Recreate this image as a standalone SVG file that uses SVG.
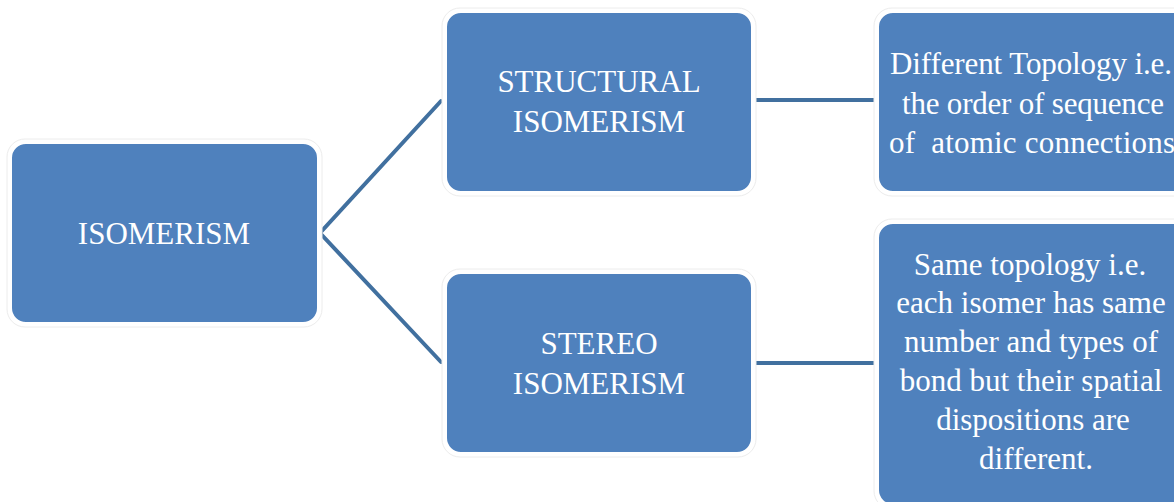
<svg xmlns="http://www.w3.org/2000/svg" width="1174" height="502" viewBox="0 0 1174 502">
<style>
.halo{fill:#ffffff;stroke:#ececec;stroke-width:1}
.box{fill:#4F81BD;stroke:#ffffff;stroke-width:2}
.t{font-family:"Liberation Serif","Times New Roman",serif;font-size:31px;fill:#ffffff;text-anchor:middle}
.c{stroke:#41709F;stroke-width:4;fill:none;stroke-linecap:round}
</style>
<rect width="1174" height="502" fill="#ffffff"/>
<g id="connectors">
<polyline class="c" points="441,101 320,233 441,362"/>
<line class="c" x1="753" y1="100" x2="876" y2="100"/>
<line class="c" x1="753" y1="363" x2="876" y2="363"/>
</g>
<g id="isomerism">
<rect class="halo" x="7" y="139" width="315" height="188" rx="18"/>
<rect class="box" x="11" y="143" width="307" height="180" rx="15"/>
<text class="t" x="164" y="244">ISOMERISM</text>
</g>
<g id="structural">
<rect class="halo" x="442" y="8" width="314" height="188" rx="18"/>
<rect class="box" x="446" y="12" width="306" height="180" rx="15"/>
<text class="t" x="599" y="92">STRUCTURAL</text>
<text class="t" x="599" y="132">ISOMERISM</text>
</g>
<g id="stereo">
<rect class="halo" x="442" y="269" width="314" height="188" rx="18"/>
<rect class="box" x="446" y="273" width="306" height="180" rx="15"/>
<text class="t" x="599" y="354">STEREO</text>
<text class="t" x="599" y="394">ISOMERISM</text>
</g>
<g id="structural-desc">
<rect class="halo" x="874" y="8" width="320" height="188" rx="18"/>
<rect class="box" x="878" y="12" width="312" height="180" rx="15"/>
<text class="t" x="1031" y="74" textLength="282" lengthAdjust="spacing">Different Topology i.e.</text>
<text class="t" x="1033" y="114" textLength="262" lengthAdjust="spacing">the order of sequence</text>
<text class="t" x="1032" y="153" textLength="286" lengthAdjust="spacing" style="white-space:pre">of  atomic connections</text>
</g>
<g id="stereo-desc">
<rect class="halo" x="874" y="219" width="320" height="290" rx="18"/>
<rect class="box" x="878" y="223" width="312" height="282" rx="15"/>
<text class="t" x="1030" y="275">Same topology i.e.</text>
<text class="t" x="1031" y="313">each isomer has same</text>
<text class="t" x="1031" y="352">number and types of</text>
<text class="t" x="1031" y="391">bond but their spatial</text>
<text class="t" x="1033" y="430">dispositions are</text>
<text class="t" x="1036" y="469">different.</text>
</g>
</svg>
